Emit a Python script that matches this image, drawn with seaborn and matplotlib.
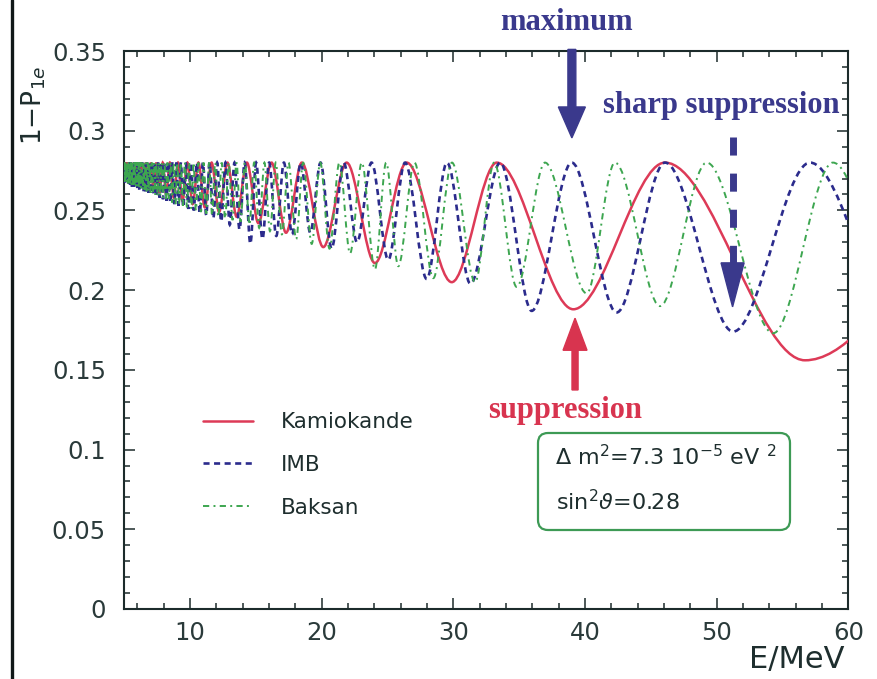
import numpy as np
import pandas as pd
import seaborn as sns
import matplotlib
matplotlib.use("Agg")
import matplotlib.pyplot as plt
from matplotlib.path import Path
from matplotlib.patches import PathPatch, FancyBboxPatch
from matplotlib.lines import Line2D
from matplotlib.ticker import MultipleLocator, FuncFormatter

# ---------------------------------------------------------------
# 1 - P_1e versus neutrino energy for three detectors.
# Each curve is given by the energies of its maxima and minima;
# all maxima sit at the vacuum level sin^2(theta) = 0.28.
# ---------------------------------------------------------------
PEAK_LEVEL = 0.28

kam_peak_E = [5.04, 5.26, 5.49, 5.74, 6.02, 6.32, 6.66, 7.04, 7.46, 7.94,
              8.48, 9.10, 9.81, 10.65, 11.65, 12.85, 14.33, 16.2, 18.5, 21.9,
              26.46, 33.3, 46.07, 73.6]
kam_trough_E = [4.94, 5.15, 5.37, 5.61, 5.88, 6.17, 6.49, 6.85, 7.24, 7.69,
                8.20, 8.78, 9.44, 10.21, 11.13, 12.22, 13.55, 15.2, 17.3, 20.13,
                24.05, 29.88, 39.11, 56.7]
kam_trough_P = [0.268, 0.268, 0.267, 0.267, 0.266, 0.265, 0.264, 0.263, 0.262, 0.261,
                0.260, 0.258, 0.256, 0.254, 0.252, 0.249, 0.246, 0.242, 0.236, 0.227,
                0.217, 0.205, 0.188, 0.156]

imb_peak_E = [4.97, 5.07, 5.18, 5.29, 5.41, 5.53, 5.66, 5.79, 5.93, 6.08,
              6.24, 6.40, 6.57, 6.75, 6.94, 7.14, 7.36, 7.59, 7.83, 8.09,
              8.36, 8.66, 8.98, 9.32, 9.69, 10.08, 10.52, 10.99, 11.50, 12.07,
              12.70, 13.39, 14.16, 15.03, 16.02, 17.14, 18.42, 19.92, 21.68, 23.79,
              26.34, 29.52, 33.56, 38.99, 46.07, 57.08]
imb_trough_E = [5.02, 5.13, 5.24, 5.35, 5.47, 5.60, 5.73, 5.86, 6.01, 6.16,
                6.32, 6.48, 6.66, 6.85, 7.04, 7.25, 7.47, 7.71, 7.96, 8.22,
                8.51, 8.82, 9.14, 9.50, 9.88, 10.30, 10.75, 11.24, 11.78, 12.38,
                13.03, 13.77, 14.59, 15.51, 16.56, 17.76, 19.14, 20.76, 22.69, 25.06,
                27.98, 31.3, 35.95, 42.40, 51.25, 64.43]
imb_trough_P = [0.267, 0.267, 0.267, 0.266, 0.266, 0.265, 0.265, 0.264, 0.264, 0.263,
                0.263, 0.262, 0.262, 0.261, 0.261, 0.260, 0.259, 0.258, 0.257, 0.256,
                0.255, 0.254, 0.253, 0.252, 0.251, 0.250, 0.248, 0.247, 0.245, 0.243,
                0.241, 0.238, 0.229, 0.232, 0.234, 0.235, 0.236, 0.226, 0.230, 0.219,
                0.207, 0.204, 0.187, 0.186, 0.174, 0.170]

bak_peak_E = [4.98, 5.06, 5.15, 5.24, 5.34, 5.43, 5.53, 5.64, 5.74, 5.86,
              5.97, 6.10, 6.22, 6.35, 6.49, 6.64, 6.79, 6.94, 7.11, 7.28,
              7.46, 7.65, 7.85, 8.07, 8.29, 8.53, 8.78, 9.04, 9.32, 9.62,
              9.94, 10.28, 10.65, 11.04, 11.46, 11.92, 12.41, 12.95, 13.54, 14.18,
              14.88, 15.66, 16.52, 17.49, 18.6, 19.9, 21.35, 23.05, 24.9, 27.05,
              29.9, 33.1, 36.96, 42.27, 49.23, 58.82]
bak_trough_E = [5.02, 5.11, 5.20, 5.29, 5.38, 5.48, 5.58, 5.69, 5.80, 5.91,
                6.03, 6.16, 6.29, 6.42, 6.56, 6.71, 6.86, 7.03, 7.19, 7.37,
                7.56, 7.75, 7.96, 8.18, 8.41, 8.65, 8.91, 9.18, 9.47, 9.78,
                10.11, 10.46, 10.84, 11.25, 11.69, 12.16, 12.68, 13.24, 13.85, 14.52,
                15.26, 16.08, 16.99, 18.07, 19.25, 20.6, 22.16, 24.05, 25.82, 28.48,
                31.65, 34.81, 40.12, 45.69, 54.29, 64.81]
bak_trough_P = [0.268, 0.268, 0.268, 0.267, 0.267, 0.267, 0.266, 0.266, 0.266, 0.265,
                0.265, 0.264, 0.264, 0.263, 0.263, 0.262, 0.262, 0.261, 0.261, 0.260,
                0.259, 0.259, 0.258, 0.257, 0.256, 0.255, 0.254, 0.254, 0.253, 0.252,
                0.251, 0.250, 0.249, 0.248, 0.247, 0.246, 0.245, 0.244, 0.243, 0.241,
                0.239, 0.237, 0.235, 0.232, 0.229, 0.226, 0.223, 0.213, 0.215, 0.2075,
                0.205, 0.202, 0.198, 0.190, 0.173, 0.165]

detectors = ["Kamiokande", "IMB", "Baksan"]
x_ticks = [10, 20, 30, 40, 50, 60]
y_ticks = [0, 0.05, 0.1, 0.15, 0.2, 0.25, 0.3, 0.35]

INK = "#1c2b2b"
styles = {
    "Kamiokande": dict(color="#dd3a57", lw=1.8, ls="-"),
    "IMB": dict(color="#2b2b8c", lw=1.9, ls=(0, (2.3, 1.7))),
    "Baksan": dict(color="#3da650", lw=1.4, ls=(0, (3.2, 2.2, 1.0, 2.2))),
}

# long table of extrema
rows = []
for name, pe, te, tp in [
    ("Kamiokande", kam_peak_E, kam_trough_E, kam_trough_P),
    ("IMB", imb_peak_E, imb_trough_E, imb_trough_P),
    ("Baksan", bak_peak_E, bak_trough_E, bak_trough_P),
]:
    rows += [(name, e, PEAK_LEVEL) for e in pe]
    rows += [(name, e, p) for e, p in zip(te, tp)]
extrema = pd.DataFrame(rows, columns=["detector", "E", "P"])


def smooth_path(df):
    """Smooth line through successive extrema (flat tangent at each one)."""
    df = df.sort_values("E")
    pts = list(zip(df["E"], df["P"]))
    verts = [pts[0]]
    codes = [Path.MOVETO]
    for (x0, y0), (x1, y1) in zip(pts[:-1], pts[1:]):
        dx = x1 - x0
        verts += [(x0 + dx / 3, y0), (x1 - dx / 3, y1), (x1, y1)]
        codes += [Path.CURVE4] * 3
    return Path(verts, codes)


sns.set_theme(style="ticks")
plt.rcParams["font.family"] = ["DejaVu Sans"]
plt.rcParams["mathtext.fontset"] = "dejavusans"

fig = plt.figure(figsize=(8.78, 6.79), dpi=100)
ax = fig.add_axes([124 / 878, 1 - 609 / 679, 724.5 / 878, 558 / 679])
ax.set_facecolor("white")

for z, name in enumerate(detectors):
    st = styles[name]
    patch = PathPatch(smooth_path(extrema[extrema["detector"] == name]),
                      fill=False, edgecolor=st["color"], lw=st["lw"],
                      linestyle=st["ls"], zorder=3 + z)
    ax.add_patch(patch)

ax.set_xlim(5, 60)
ax.set_ylim(0, 0.35)
ax.xaxis.set_major_locator(MultipleLocator(10))
ax.xaxis.set_minor_locator(MultipleLocator(2))
ax.yaxis.set_major_locator(MultipleLocator(0.05))
ax.yaxis.set_minor_locator(MultipleLocator(0.01))
ax.set_xticks(x_ticks)
ax.set_yticks(y_ticks)
ax.yaxis.set_major_formatter(FuncFormatter(lambda v, _: f"{v:g}"))
ax.tick_params(which="both", direction="in", top=True, right=True,
               color=INK, width=1.1, labelcolor="#2a3a3a", labelsize=17.5)
ax.tick_params(which="major", length=8)
ax.tick_params(which="minor", length=4.5)
ax.tick_params(axis="x", pad=9)
ax.tick_params(axis="y", pad=13)
for sp in ax.spines.values():
    sp.set_color(INK)
    sp.set_linewidth(1.5)

# legend
handles = [Line2D([0], [0], color=styles[n]["color"], lw=styles[n]["lw"],
                  linestyle=styles[n]["ls"]) for n in detectors]
leg = ax.legend(handles, detectors, loc="center left",
                bbox_to_anchor=((202.7 - 124) / 724.5, (609 - 465) / 558),
                frameon=False, fontsize=15.5, handlelength=2.35,
                handletextpad=1.3, labelspacing=1.05, borderpad=0,
                borderaxespad=0)
for t in leg.get_texts():
    t.set_color("#1e2e2e")

# parameter box
fig.add_artist(FancyBboxPatch((5.38, 1.49), 2.52, 0.97,
                              boxstyle="round,pad=0,rounding_size=0.1",
                              transform=fig.dpi_scale_trans,
                              fc="none", ec="#3d9a55", lw=1.6, zorder=6))
ax.text(37.72, 0.0903, r"$\Delta$ m$^2$=7.3 10$^{-5}$ eV $^2$", fontsize=16,
        color="#1e2e2e", ha="left", va="baseline", zorder=7)
ax.text(37.8, 0.0621, r"sin$^2\vartheta$=0.28", fontsize=16,
        color="#1e2e2e", ha="left", va="baseline", zorder=7)

# annotations
navy = "#3a398c"
crimson = "#d8344f"
serif = dict(family="Liberation Serif", weight="bold", fontsize=22)

ax.text(38.55, 0.3632, "maximum", color=navy, ha="center", va="baseline",
        clip_on=False, zorder=10, **serif)
ax.arrow(39.0, 0.351, 0, 0.2955 - 0.351, width=0.6, head_width=2.05,
         head_length=0.0194, length_includes_head=True, color=navy,
         clip_on=False, zorder=9)

ax.text(50.37, 0.311, "sharp suppression", color=navy, ha="center",
        va="baseline", clip_on=False, zorder=10, **serif)
ax.plot([51.2, 51.2], [0.2961, 0.2171], color=navy, lw=5.0,
        linestyle=(0, (2.6, 2.6)), solid_capstyle="butt",
        dash_capstyle="butt", zorder=9)
ax.arrow(51.2, 0.2171, 0, 0.1895 - 0.2171, width=0, head_width=1.75,
         head_length=0.2171 - 0.1895, length_includes_head=True,
         color=navy, zorder=9)

ax.text(38.48, 0.1198, "suppression", color=crimson, ha="center",
        va="baseline", zorder=10, **serif)
ax.arrow(39.24, 0.1374, 0, 0.1824 - 0.1374, width=0.46, head_width=1.82,
         head_length=0.0201, length_includes_head=True, color=crimson,
         zorder=9)

# axis titles
fig.text(845 / 878, 1 - 668 / 679, "E/MeV", ha="right", va="baseline",
         fontsize=22, color="#1e2e2e")
fig.text(20 / 878, 1 - 145 / 679, r"1$-$P$_{1e}$", rotation=90, ha="left",
         va="bottom", fontsize=19, color="#1e2e2e")

# page edge rule
fig.add_artist(Line2D([11.5 / 878, 11.5 / 878], [0, 1],
                      transform=fig.transFigure, color="#101818", lw=2.4))

fig.savefig("out.png", dpi=100, facecolor="white")
